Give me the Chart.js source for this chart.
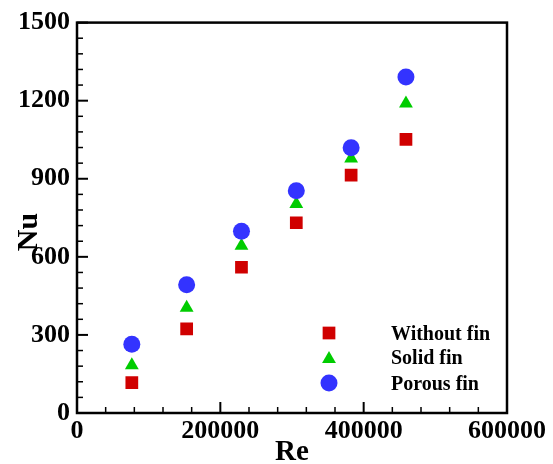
<!DOCTYPE html>
<html>
<head>
<meta charset="utf-8">
<script src="https://cdn.jsdelivr.net/npm/chart.js@4/dist/chart.umd.min.js"></script>
<style>
  html, body { margin: 0; padding: 0; background: #fff; }
  #wrap { width: 553px; height: 464px; }
</style>
</head>
<body>
<div id="wrap"><canvas id="nuChart"></canvas></div>
<script>
// Reynolds numbers of the six cases
const re = [76500, 153000, 229500, 306000, 382500, 459000];

// Nusselt number per fin type
const withoutFin = [117, 323, 560, 731, 914, 1051];
const solidFin = [183, 404, 643, 803, 978, 1189];
const porousFin = [264, 493, 698, 854, 1019, 1291];

const xTicks = [0, 200000, 400000, 600000];
const yTicks = [0, 300, 600, 900, 1200, 1500];

const FONT = "'Liberation Serif', 'Times New Roman', serif";

function points(ys) {
    return re.map((x, i) => ({ x: x, y: ys[i] }));
}

// box, inward ticks, axis titles and the in-plot legend
const framePlugin = {
    id: 'frame',
    afterDatasetsDraw(chart) {
        const ctx = chart.ctx;
        const a = chart.chartArea;
        const xs = chart.scales.x, ys = chart.scales.y;
        ctx.save();
        ctx.strokeStyle = '#000';

        // minor + major ticks on the bottom axis
        for (let v = 0; v <= 600000; v += 40000) {
            const px = xs.getPixelForValue(v);
            const major = v % 200000 === 0;
            ctx.lineWidth = major ? 2 : 1.5;
            ctx.beginPath();
            ctx.moveTo(px, a.bottom);
            ctx.lineTo(px, a.bottom - (major ? 11 : 6));
            ctx.stroke();
        }
        // minor + major ticks on the left axis
        for (let v = 0; v <= 1500; v += 60) {
            const py = ys.getPixelForValue(v);
            const major = v % 300 === 0;
            ctx.lineWidth = major ? 2 : 1.5;
            ctx.beginPath();
            ctx.moveTo(a.left, py);
            ctx.lineTo(a.left + (major ? 11 : 6), py);
            ctx.stroke();
        }

        ctx.lineWidth = 2.5;
        ctx.strokeRect(a.left, a.top, a.right - a.left, a.bottom - a.top);

        // axis titles
        ctx.fillStyle = '#000';
        ctx.font = 'bold 29px ' + FONT;
        ctx.textAlign = 'center';
        ctx.textBaseline = 'alphabetic';
        ctx.fillText('Re', (a.left + a.right) / 2, 460);
        ctx.save();
        ctx.font = 'bold 30px ' + FONT;
        ctx.translate(37, 232);
        ctx.rotate(-Math.PI / 2);
        ctx.fillText('Nu', 0, 0);
        ctx.restore();

        // legend
        const rows = [333, 357, 383];
        ctx.font = 'bold 20px ' + FONT;
        ctx.textAlign = 'left';
        chart.data.datasets.forEach((ds, i) => {
            ctx.fillStyle = ds.backgroundColor;
            Chart.helpers.drawPoint(ctx, {
                pointStyle: ds.pointStyle,
                radius: ds.pointRadius,
                rotation: 0,
                borderWidth: 0
            }, 329, rows[i] + (ds.pointStyle === 'triangle' ? 2 : 0));
            ctx.fillStyle = '#000';
            ctx.fillText(ds.label, 391, rows[i] + 7);
        });
        ctx.restore();
    }
};

const tickFont = { family: FONT, size: 26, weight: 'bold' };

new Chart(document.getElementById('nuChart'), {
    type: 'scatter',
    data: {
        datasets: [
            {
                label: 'Without fin',
                data: points(withoutFin),
                pointStyle: 'rect',
                pointRadius: 9,
                backgroundColor: '#d00000',
                borderWidth: 0,
                order: 2
            },
            {
                label: 'Solid fin',
                data: points(solidFin),
                pointStyle: 'triangle',
                pointRadius: 8,
                backgroundColor: '#00cc00',
                borderWidth: 0,
                order: 1
            },
            {
                label: 'Porous fin',
                data: points(porousFin),
                pointStyle: 'circle',
                pointRadius: 8.5,
                backgroundColor: '#3333ff',
                borderWidth: 0,
                order: 0
            }
        ]
    },
    options: {
        responsive: true,
        maintainAspectRatio: false,
        animation: false,
        layout: { padding: { top: 20, right: 46, left: 0, bottom: 0 } },
        plugins: {
            legend: { display: false },
            tooltip: { enabled: false }
        },
        scales: {
            x: {
                type: 'linear',
                min: 0,
                max: 600000,
                afterFit(scale) { scale.height = 51; },
                afterBuildTicks(scale) { scale.ticks = xTicks.map(v => ({ value: v })); },
                grid: { display: false, drawTicks: false },
                border: { display: false },
                ticks: {
                    padding: 3,
                    color: '#000',
                    maxRotation: 0,
                    callback: v => String(v),
                    font: tickFont
                }
            },
            y: {
                type: 'linear',
                min: 0,
                max: 1500,
                afterFit(scale) { scale.width = 77; },
                afterBuildTicks(scale) { scale.ticks = yTicks.map(v => ({ value: v })); },
                grid: { display: false, drawTicks: false },
                border: { display: false },
                ticks: {
                    padding: 7,
                    color: '#000',
                    callback: v => String(v),
                    font: tickFont
                }
            }
        }
    },
    plugins: [framePlugin]
});
</script>
</body>
</html>
